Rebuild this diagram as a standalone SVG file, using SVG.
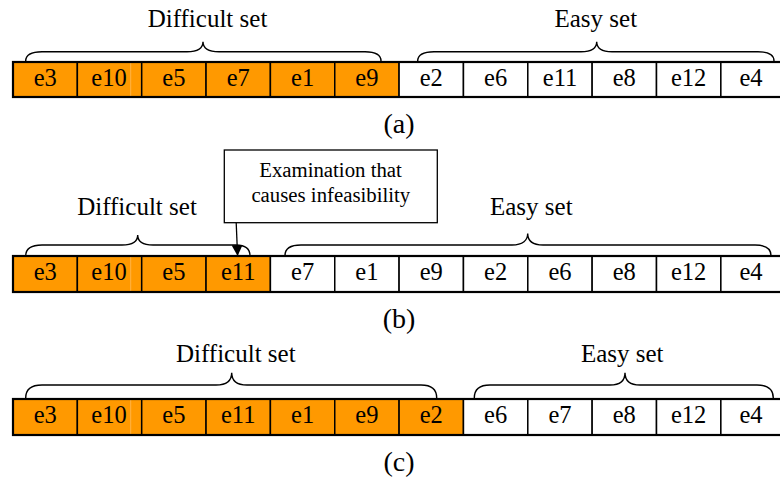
<svg xmlns="http://www.w3.org/2000/svg" width="780" height="482" viewBox="0 0 780 482" font-family="'Liberation Serif', 'DejaVu Serif', serif">
  <defs>
    <style>
      text { font-family: 'Liberation Serif', 'DejaVu Serif', serif; fill: #000; }
      .lbl { font-size: 24.5px; text-anchor: middle; }
      .set { font-size: 25px; text-anchor: middle; }
      .cap { font-size: 28px; text-anchor: middle; }
      .note { font-size: 20.8px; text-anchor: middle; }
      .hard { fill: #FF9900; stroke: #000; stroke-width: 1.5; }
      .easy { fill: #FFFFFF; stroke: #000; stroke-width: 1.5; }
      .frame { fill: none; stroke: #000; stroke-width: 2.2; }
      .seam { stroke: #FFB347; stroke-width: 1; }
      .brace { fill: none; stroke: #000; stroke-width: 1.4; }
      .box { fill: #FFFFFF; stroke: #000; stroke-width: 1.3; }
      .link { fill: none; stroke: #000; stroke-width: 1.3; }
    </style>
    <marker id="tri" markerWidth="12" markerHeight="11" refX="11" refY="5.5" orient="auto" markerUnits="userSpaceOnUse">
      <path d="M0,0 L11,5.5 L0,11 Z" fill="#000"/>
    </marker>
  </defs>

  <rect width="780" height="482" fill="#FFFFFF"/>

  <!-- Row (a) -->
  <g id="row-a">
    <g id="a-e3"><rect class="hard" x="13" y="62" width="64.35" height="35"/><text class="lbl" x="45.2" y="86">e3</text></g>
    <g id="a-e10"><rect class="hard" x="77.35" y="62" width="64.35" height="35"/><line class="seam" x1="130.7" y1="63" x2="130.7" y2="96"/><text class="lbl" x="109" y="86">e10</text></g>
    <g id="a-e5"><rect class="hard" x="141.7" y="62" width="64.35" height="35"/><text class="lbl" x="173.9" y="86">e5</text></g>
    <g id="a-e7"><rect class="hard" x="206.05" y="62" width="64.35" height="35"/><text class="lbl" x="238.2" y="86">e7</text></g>
    <g id="a-e1"><rect class="hard" x="270.4" y="62" width="64.35" height="35"/><text class="lbl" x="302.6" y="86">e1</text></g>
    <g id="a-e9"><rect class="hard" x="334.75" y="62" width="64.35" height="35"/><text class="lbl" x="366.9" y="86">e9</text></g>
    <g id="a-e2"><rect class="easy" x="399.1" y="62" width="64.35" height="35"/><text class="lbl" x="431.3" y="86">e2</text></g>
    <g id="a-e6"><rect class="easy" x="463.45" y="62" width="64.35" height="35"/><text class="lbl" x="495.6" y="86">e6</text></g>
    <g id="a-e11"><rect class="easy" x="527.8" y="62" width="64.35" height="35"/><text class="lbl" x="560" y="86">e11</text></g>
    <g id="a-e8"><rect class="easy" x="592.15" y="62" width="64.35" height="35"/><text class="lbl" x="624.3" y="86">e8</text></g>
    <g id="a-e12"><rect class="easy" x="656.5" y="62" width="64.35" height="35"/><text class="lbl" x="688.7" y="86">e12</text></g>
    <g id="a-e4"><rect class="easy" x="720.85" y="62" width="64.35" height="35"/><text class="lbl" x="751" y="86">e4</text></g>
    <rect class="frame" x="13" y="62" width="772.2" height="35"/>
    <path class="brace" d="M25.7,61 C25.7,55 30,51.7 42,51.7 L187,51.7 C198,51.7 203,48 203,41.7 C203,48 208,51.7 219,51.7 L365,51.7 C377,51.7 381,55 381,61"/>
    <path class="brace" d="M417.7,61 C417.7,55 422,51.7 434,51.7 L581,51.7 C592,51.7 596.7,48 596.7,41.7 C596.7,48 601,51.7 612,51.7 L758,51.7 C770,51.7 774,55 774,61"/>
    <text class="set" x="207.5" y="27">Difficult set</text>
    <text class="set" x="595.8" y="27">Easy set</text>
    <text class="cap" x="399" y="133">(a)</text>
  </g>

  <!-- Row (b) -->
  <g id="row-b">
    <g id="b-e3"><rect class="hard" x="13" y="256" width="64.35" height="36"/><text class="lbl" x="45.2" y="280">e3</text></g>
    <g id="b-e10"><rect class="hard" x="77.35" y="256" width="64.35" height="36"/><line class="seam" x1="130.7" y1="257" x2="130.7" y2="291"/><text class="lbl" x="109" y="280">e10</text></g>
    <g id="b-e5"><rect class="hard" x="141.7" y="256" width="64.35" height="36"/><text class="lbl" x="173.9" y="280">e5</text></g>
    <g id="b-e11"><rect class="hard" x="206.05" y="256" width="64.35" height="36"/><text class="lbl" x="238.2" y="280">e11</text></g>
    <g id="b-e7"><rect class="easy" x="270.4" y="256" width="64.35" height="36"/><text class="lbl" x="302.6" y="280">e7</text></g>
    <g id="b-e1"><rect class="easy" x="334.75" y="256" width="64.35" height="36"/><text class="lbl" x="366.9" y="280">e1</text></g>
    <g id="b-e9"><rect class="easy" x="399.1" y="256" width="64.35" height="36"/><text class="lbl" x="431.3" y="280">e9</text></g>
    <g id="b-e2"><rect class="easy" x="463.45" y="256" width="64.35" height="36"/><text class="lbl" x="495.6" y="280">e2</text></g>
    <g id="b-e6"><rect class="easy" x="527.8" y="256" width="64.35" height="36"/><text class="lbl" x="560" y="280">e6</text></g>
    <g id="b-e8"><rect class="easy" x="592.15" y="256" width="64.35" height="36"/><text class="lbl" x="624.3" y="280">e8</text></g>
    <g id="b-e12"><rect class="easy" x="656.5" y="256" width="64.35" height="36"/><text class="lbl" x="688.7" y="280">e12</text></g>
    <g id="b-e4"><rect class="easy" x="720.85" y="256" width="64.35" height="36"/><text class="lbl" x="751" y="280">e4</text></g>
    <rect class="frame" x="13" y="256" width="772.2" height="36"/>
    <path class="brace" d="M25.7,256 C25.7,249 30,245 42,245 L122,245 C133,245 137.7,241 137.7,235 C137.7,241 142,245 153,245 L236,245 C246,245 250,249 250,256"/>
    <path class="brace" d="M285,255.5 C285,249 289,245 301,245 L512,245 C523,245 527.7,240 527.7,233.5 C527.7,240 532,245 543,245 L755,245 C767,245 771,249 771,255.5"/>
    <text class="set" x="137" y="215">Difficult set</text>
    <text class="set" x="531.3" y="215">Easy set</text>
    <g id="note-infeasible">
      <rect class="box" x="224.3" y="150" width="213" height="72.7"/>
      <text class="note" x="330.5" y="176.7">Examination that</text>
      <text class="note" x="330.8" y="201.7">causes infeasibility</text>
    </g>
    <text class="cap" x="399" y="328">(b)</text>
  </g>

  <!-- Row (c) -->
  <g id="row-c">
    <g id="c-e3"><rect class="hard" x="13" y="399" width="64.35" height="36"/><text class="lbl" x="45.2" y="422.5">e3</text></g>
    <g id="c-e10"><rect class="hard" x="77.35" y="399" width="64.35" height="36"/><line class="seam" x1="130.7" y1="400" x2="130.7" y2="434"/><text class="lbl" x="109" y="422.5">e10</text></g>
    <g id="c-e5"><rect class="hard" x="141.7" y="399" width="64.35" height="36"/><text class="lbl" x="173.9" y="422.5">e5</text></g>
    <g id="c-e11"><rect class="hard" x="206.05" y="399" width="64.35" height="36"/><text class="lbl" x="238.2" y="422.5">e11</text></g>
    <g id="c-e1"><rect class="hard" x="270.4" y="399" width="64.35" height="36"/><text class="lbl" x="302.6" y="422.5">e1</text></g>
    <g id="c-e9"><rect class="hard" x="334.75" y="399" width="64.35" height="36"/><text class="lbl" x="366.9" y="422.5">e9</text></g>
    <g id="c-e2"><rect class="hard" x="399.1" y="399" width="64.35" height="36"/><text class="lbl" x="431.3" y="422.5">e2</text></g>
    <g id="c-e6"><rect class="easy" x="463.45" y="399" width="64.35" height="36"/><text class="lbl" x="495.6" y="422.5">e6</text></g>
    <g id="c-e7"><rect class="easy" x="527.8" y="399" width="64.35" height="36"/><text class="lbl" x="560" y="422.5">e7</text></g>
    <g id="c-e8"><rect class="easy" x="592.15" y="399" width="64.35" height="36"/><text class="lbl" x="624.3" y="422.5">e8</text></g>
    <g id="c-e12"><rect class="easy" x="656.5" y="399" width="64.35" height="36"/><text class="lbl" x="688.7" y="422.5">e12</text></g>
    <g id="c-e4"><rect class="easy" x="720.85" y="399" width="64.35" height="36"/><text class="lbl" x="751" y="422.5">e4</text></g>
    <rect class="frame" x="13" y="399" width="772.2" height="36"/>
    <path class="brace" d="M25.7,398 C25.7,390 30,385 42,385 L216,385 C227,385 231.7,380 231.7,372.7 C231.7,380 236,385 247,385 L421,385 C432,385 436.7,390 436.7,398"/>
    <path class="brace" d="M474.3,398 C474.3,390 478,385 490,385 L610,385 C621,385 625,380 625,372.7 C625,380 629,385 640,385 L757,385 C769,385 773.3,390 773.3,398"/>
    <text class="set" x="235.8" y="361.7">Difficult set</text>
    <text class="set" x="622.2" y="361.7">Easy set</text>
    <text class="cap" x="399" y="471">(c)</text>
  </g>

  <!-- Connectors -->
  <g id="connectors">
    <line class="link" x1="236.2" y1="222.7" x2="237.6" y2="256" marker-end="url(#tri)"/>
  </g>
</svg>
